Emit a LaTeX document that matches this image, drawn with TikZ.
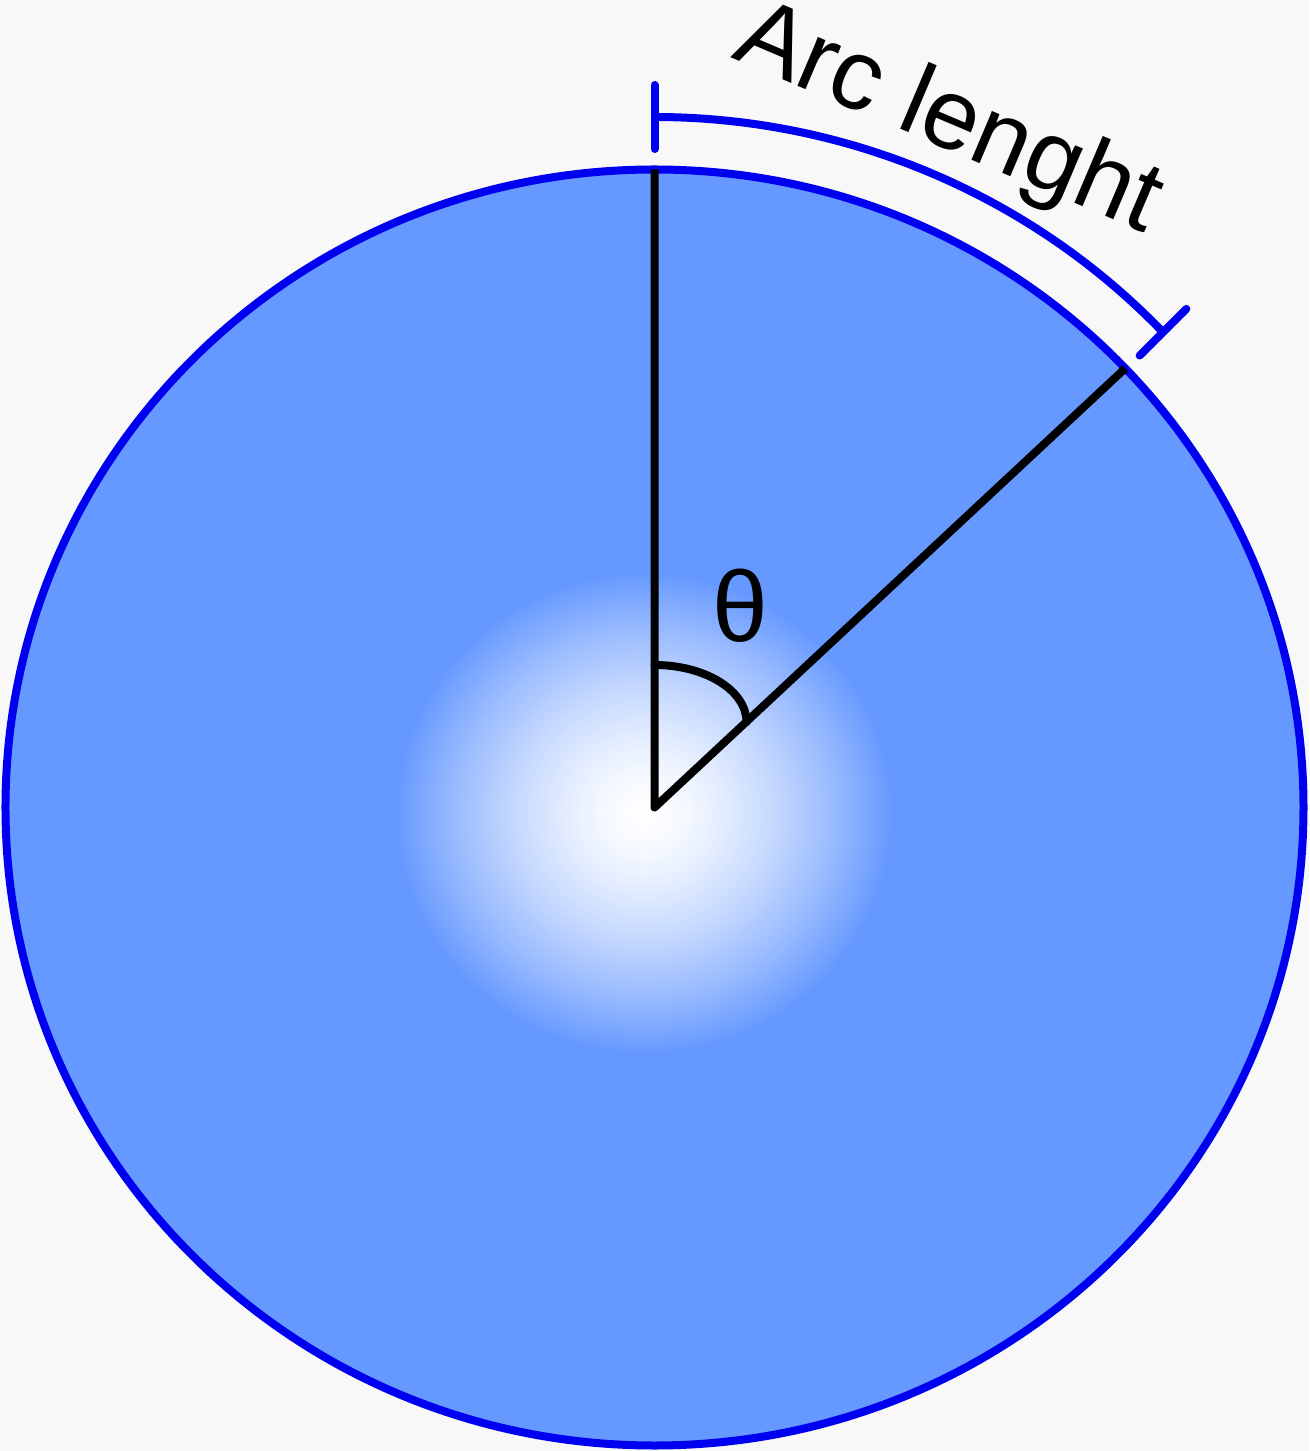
\documentclass[tikz,border=0pt]{standalone}
\usepackage{fontspec}
\setmainfont{Liberation Sans}
\definecolor{rimblue}{RGB}{0,0,240}
\definecolor{discblue}{RGB}{102,153,255}
\definecolor{paper}{RGB}{248,248,248}
\tikzset{
    thick line/.style={line width=1.6mm},
    big text/.style={font=\fontsize{57}{60}\selectfont}
}
\begin{document}
\begin{tikzpicture}[x=0.2mm,y=0.2mm]
        % Define the disc
        \coordinate (O) at (0,0);
        \coordinate (glow) at (-10,-6);
        \coordinate (top) at (0,638);
        \coordinate (rim) at (43.5:649 and 638);

        % Background
        \fill[paper] (-654.5,-643.5) rectangle (654.5,807.5);
        \useasboundingbox (-654.5,-643.5) rectangle (654.5,807.5);

        % Draw disc with a soft white glow
        \fill[discblue] (O) ellipse [x radius=649, y radius=638];
        \foreach \i in {0,...,59} {
            \pgfmathsetmacro\s{1-\i/60}
            \pgfmathsetmacro\w{100*(1-\s^1.5)}
            \fill[white!\w!discblue] (glow) ellipse [x radius=250*\s, y radius=242*\s];
        }
        \draw[rimblue, thick line] (O) ellipse [x radius=649, y radius=638];

        % Radii and angle
        \draw[thick line, line join=round] (top) -- (O) -- (rim);
        \draw[thick line, line cap=round] (0,142.5) arc [start angle=90, end angle=0, x radius=92, y radius=57];
        \node[big text] (theta) at (85.5,201.5) {θ};

        % Arc length bracket
        \coordinate (btop) at (0,690.5);
        \coordinate (bend) at (43.5:701 and 690.5);
        \draw[rimblue, thick line] (btop) arc [start angle=90, end angle=43.5, x radius=701, y radius=690.5];
        \draw[rimblue, thick line, line cap=round] ([shift={(0,32)}]btop) -- ([shift={(0,-32)}]btop);
        \draw[rimblue, thick line, line cap=round] ([shift={(45:33)}]bend) -- ([shift={(225:33)}]bend);

        % Label the arc
        \node[big text, rotate=-23, anchor=base west, inner sep=0] (arclabel) at (75.5,750.5) {Arc lenght};
\end{tikzpicture}
\end{document}
